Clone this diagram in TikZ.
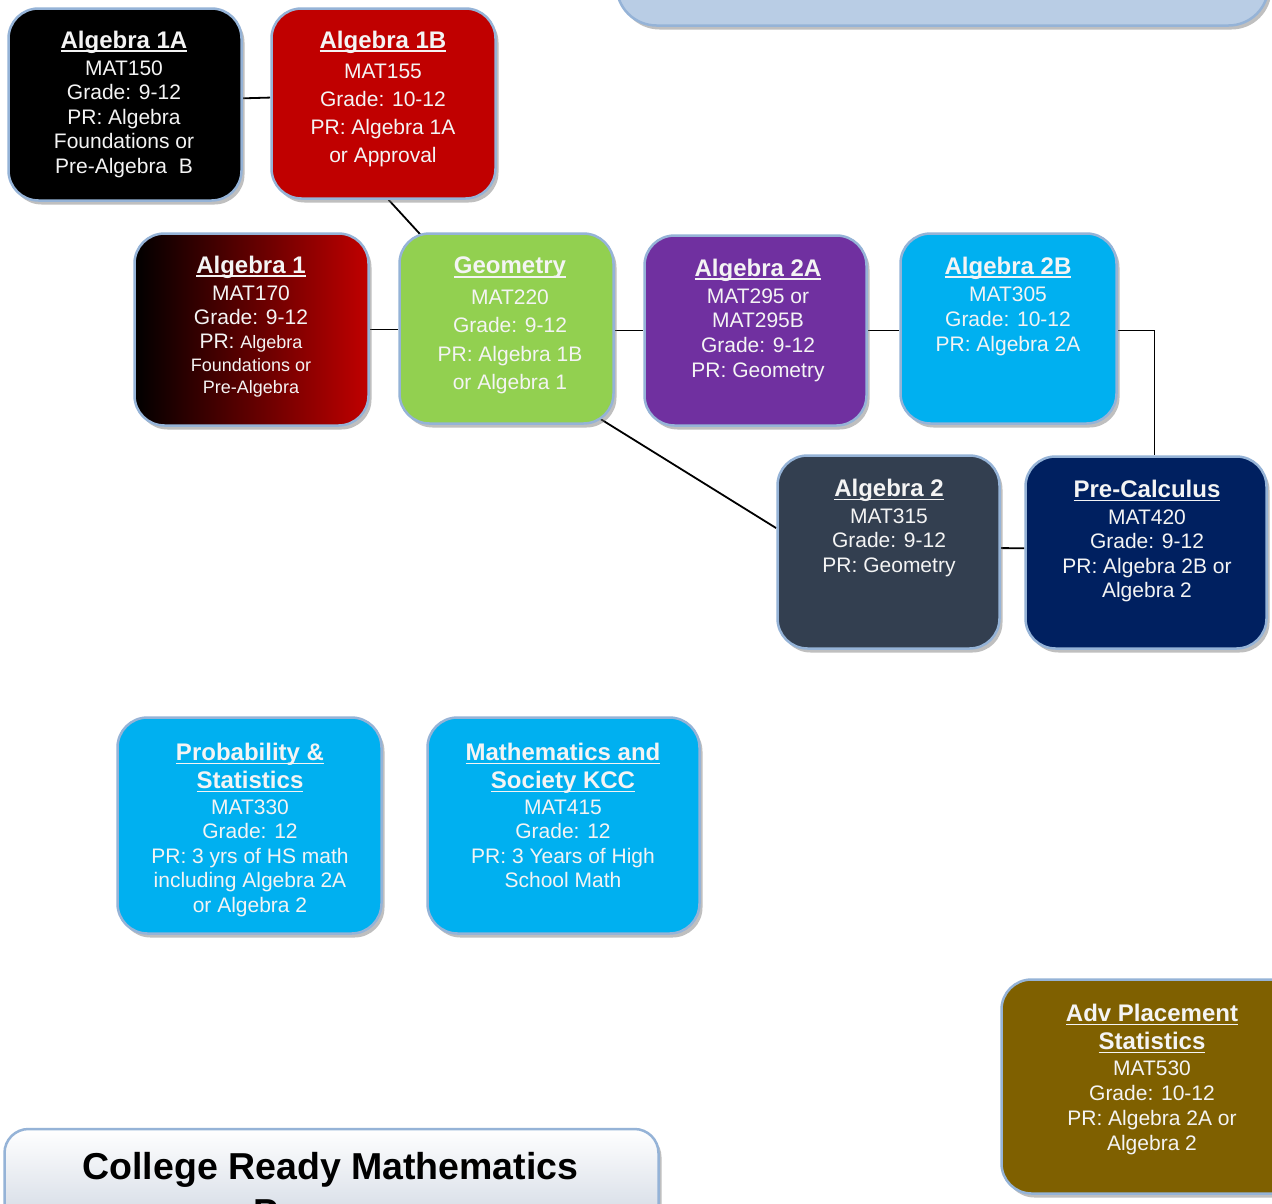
\documentclass[tikz,border=0pt]{standalone}
\usepackage{fontspec}
\setmainfont{Liberation Sans}
\usetikzlibrary{shadows,calc,backgrounds}
\definecolor{bord}{HTML}{95B3D7}
\definecolor{txtw}{HTML}{F4F4F4}
\definecolor{algred}{HTML}{C00000}
\definecolor{geogreen}{HTML}{92D050}
\definecolor{purp}{HTML}{7030A0}
\definecolor{cyanb}{HTML}{00B0F0}
\definecolor{slate}{HTML}{333F50}
\definecolor{navy}{HTML}{002060}
\definecolor{olive}{HTML}{7F6000}
\definecolor{paleblue}{HTML}{B9CDE5}
\definecolor{titlebot}{HTML}{B4C0D2}
\newcommand\ulx[1]{\setbox0=\hbox{#1}\rlap{\rule[-4.2pt]{\wd0}{1.8pt}}\box0}
\newcommand\ttl[1]{{\fontsize{24}{24}\selectfont\bfseries\ulx{#1}}}
\newcommand\sml{\fontsize{18}{18}\selectfont}
\tikzset{
  box/.style={draw=bord, line width=2.5pt, rounded corners=30pt, inner sep=0pt,
    drop shadow={shadow xshift=3pt, shadow yshift=-4pt, fill=black!55, opacity=0.45}},
  txt/.style={text=txtw, align=center, inner sep=0pt, anchor=north, font=\fontsize{21}{#1}\selectfont},
  conn/.style={draw=black, line width=1.8pt}
}
\begin{document}
\begin{tikzpicture}[x=1pt,y=-1pt]
\useasboundingbox (0,0) rectangle (1272,1203);
\clip (0,0) rectangle (1272,1203);

% boxes
\node[box, fill=paleblue, minimum width=652pt, minimum height=124pt, rounded corners=40pt] (top) at (942.5,-36.5) {};
\node[box, fill=black, minimum width=233pt, minimum height=192pt] (a1a) at (125,104.5) {};
\node[box, fill=algred, minimum width=224pt, minimum height=190pt] (a1b) at (383.5,103.5) {};
\node[box, left color=black, right color=algred, minimum width=234pt, minimum height=192pt] (a1) at (251.5,329.5) {};
\node[box, fill=geogreen, minimum width=214pt, minimum height=190pt] (geo) at (506.5,328.5) {};
\node[box, fill=purp, minimum width=222pt, minimum height=190pt] (a2a) at (755.5,330.5) {};
\node[box, fill=cyanb, minimum width=216pt, minimum height=190pt] (a2b) at (1008.5,328.5) {};
\node[box, fill=slate, minimum width=222pt, minimum height=193pt] (a2) at (888.5,552) {};
\node[box, fill=navy, minimum width=241pt, minimum height=192pt] (pc) at (1146,552.5) {};
\node[box, fill=cyanb, minimum width=264pt, minimum height=216pt] (prob) at (249.5,825.5) {};
\node[box, fill=cyanb, minimum width=272pt, minimum height=216pt] (ms) at (563.5,825.5) {};
\node[box, fill=olive, minimum width=301pt, minimum height=214pt] (ap) at (1152,1086.5) {};
\node[box, top color=white, bottom color=titlebot, minimum width=654pt, minimum height=160pt, rounded corners=24pt] (ttlbox) at (331.5,1209) {};

% connectors
\begin{scope}[on background layer]
\fill[white] (0,0) rectangle (1272,1203);
\draw[conn] (a1a.3) -- (a1b.177);
\draw[conn] (a1b.-87) -- (geo.center);
\draw[conn] (a1.east) -- (a1.east -| geo.west);
\draw[conn] (a2a.west -| geo.east) -- (a2a.west);
\draw[conn] (a2a.east) -- (a2a.east -| a2b.west);
\draw[conn] (a2a.east -| a2b.east) -| (pc.85);
\draw[conn] ($(geo.-43)!-0.15!(a2.168)$) -- (a2.168);
\draw[conn] (a2.2) -- (pc.178);
\end{scope}

% texts
\node[txt=24.5] (a1a-t) at (124,30.5) {\ttl{Algebra 1A}\\[2.5pt] MAT150\\ Grade: 9-12\\ PR: Algebra\\ Foundations or\\ Pre-Algebra\ \ B};
\node[txt=28] (a1b-t) at (383,30.5) {\ttl{Algebra 1B}\\[2pt] MAT155\\ Grade: 10-12\\ PR: Algebra 1A\\ or Approval};
\node[txt=24] (a1-t) at (251,255.5) {\ttl{Algebra 1}\\[3pt] MAT170\\ Grade: 9-12\\ PR: {\sml Algebra}\\[-1pt] {\sml Foundations or}\\[-2pt] {\sml Pre-Algebra}};
\node[txt=28.5] (geo-t) at (510,256.5) {\ttl{Geometry}\\[2.5pt] MAT220\\ Grade: 9-12\\ PR: Algebra 1B\\ or Algebra 1};
\node[txt=24.7] (a2a-t) at (758,258.5) {\ttl{Algebra 2A}\\[2.3pt] MAT295 or\\ MAT295B\\ Grade: 9-12\\ PR: Geometry};
\node[txt=25] (a2b-t) at (1008,256.5) {\ttl{Algebra 2B}\\[2pt] MAT305\\ Grade: 10-12\\ PR: Algebra 2A};
\node[txt=24.5] (a2-t) at (889,478.5) {\ttl{Algebra 2}\\[2.5pt] MAT315\\ Grade: 9-12\\ PR: Geometry};
\node[txt=24.5] (pc-t) at (1147,479.5) {\ttl{Pre-Calculus}\\[2.5pt] MAT420\\ Grade: 9-12\\ PR: Algebra 2B or\\ Algebra 2};
\node[txt=24.5] (prob-t) at (250,742.5) {\ttl{Probability \&}\\[3.5pt] \ttl{Statistics}\\[1.5pt] MAT330\\ Grade: 12\\ PR: 3 yrs of HS math\\ including Algebra 2A\\ or Algebra 2};
\node[txt=24.5] (ms-t) at (563,742.5) {\ttl{Mathematics and}\\[3.5pt] \ttl{Society KCC}\\[1.5pt] MAT415\\ Grade: 12\\ PR: 3 Years of High\\ School Math};
\node[txt=25] (ap-t) at (1152,1003.5) {\ttl{Adv Placement}\\[3pt] \ttl{Statistics}\\[1pt] MAT530\\ Grade: 10-12\\ PR: Algebra 2A or\\ Algebra 2};
\node[align=center, inner sep=0pt, anchor=north, text=black, font=\fontsize{37.5}{46}\selectfont\bfseries] (ttl-t) at (330.5,1152) {College Ready Mathematics\\ Program};
\end{tikzpicture}
\end{document}
